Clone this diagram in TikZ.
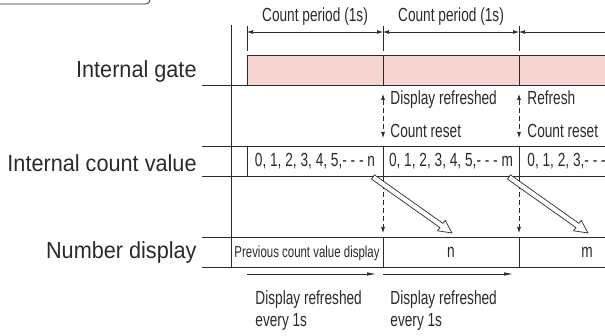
\documentclass[tikz,border=0pt]{standalone}
\usepackage{fontspec}
\setmainfont{Liberation Sans}
\newfontfamily\bigfont[FakeStretch=0.93]{Liberation Sans}
\newfontfamily\smfont[FakeStretch=0.72]{Liberation Sans}
\usetikzlibrary{arrows.meta,calc}
\definecolor{ink}{HTML}{2A2A2A}
\definecolor{gatepink}{HTML}{F6D4D0}
\newcommand\hollowarrow[2]{%
  \coordinate (ha-b) at ($(#2)!13pt!(#1)$);
  \draw[fill=white, line width=0.7pt, line join=miter]
    ($(#1)!2.6pt!90:(#2)$) -- ($(ha-b)!2.6pt!90:(#2)$) -- ($(ha-b)!6.5pt!90:(#2)$) -- (#2)
    -- ($(ha-b)!6.5pt!-90:(#2)$) -- ($(ha-b)!2.6pt!-90:(#2)$) -- ($(#1)!2.6pt!-90:(#2)$) -- cycle;}
\begin{document}
\begin{tikzpicture}[x=1pt,y=-1pt, line width=0.8pt, color=ink,
  lab/.style={font=\bigfont\fontsize{23.3}{26}\selectfont, anchor=base east, inner sep=0pt},
  sm/.style={font=\smfont\fontsize{19}{22}\selectfont, inner sep=0pt},
  tinytext/.style={font=\smfont\fontsize{15.9}{18}\selectfont, inner sep=0pt},
  tick/.style={line width=0.7pt},
  dimarr/.style={line width=0.7pt, {Latex[length=6pt,width=4pt]}-{Latex[length=6pt,width=4pt]}},
  dimarrleft/.style={line width=0.7pt, {Latex[length=6pt,width=4pt]}-},
  dasharr/.style={line width=0.7pt, dash pattern=on 5pt off 3pt},
  refarr/.style={line width=0.7pt, -{Latex[length=9pt,width=3.5pt]}}]
\useasboundingbox (0,0) rectangle (605,336);

% top-left box remnant
\draw[rounded corners=4pt] (-2,4) -- (150,4) -- (150,-6);

% main labels
\node[lab] (lgate) at (197,78) {Internal gate};
\node[lab] (lcount) at (197,171.5) {Internal count value};
\node[lab] (ldisp) at (197,259) {Number display};

% period labels
\node[sm, anchor=base] (p1) at (315,22) {Count period (1s)};
\node[sm, anchor=base] (p2) at (451,22) {Count period (1s)};

% ticks and dimension arrows
\coordinate (t0) at (247,32);
\coordinate (t1) at (383,32);
\coordinate (t2) at (519,32);
\coordinate (t3) at (606,32);
\draw[tick] (247,26) -- (247,51);
\draw[tick] (383,26) -- (383,51);
\draw[tick] (519,26) -- (519,51);
\draw[dimarr] (t0) -- (t1);
\draw[dimarr] (t1) -- (t2);
\draw[dimarrleft] (t2) -- (t3);

% left axis
\draw (231,25) -- (231,267);

% internal gate
\fill[gatepink] (247,55) rectangle (606,85);
\draw (606,55) -- (247,55) -- (247,85);
\draw (202,85) -- (606,85);
\draw (383,55) -- (383,85);
\draw (519,55) -- (519,85);

% internal count row
\draw (202,146) -- (606,146);
\draw (202,176) -- (606,176);
\draw (247,146) -- (247,176);
\draw (383,146) -- (383,176);
\draw (519,146) -- (519,176);
\node[sm, anchor=base] (c1) at (315,166.5) {0, 1, 2, 3, 4, 5,- - - n};
\node[sm, anchor=base] (c2) at (451,166.5) {0, 1, 2, 3, 4, 5,- - - m};
\node[sm, anchor=base west] (c3) at (527,166.5) {0, 1, 2, 3,- - -};

% number display row
\draw (202,237) -- (606,237);
\draw (202,267) -- (606,267);
\draw (383,237) -- (383,267);
\draw (519,237) -- (519,267);
\node[tinytext, anchor=base] (d1) at (307,257.3) {Previous count value display};
\node[sm, anchor=base] (d2) at (451,257.3) {n};
\node[sm, anchor=base] (d3) at (587,257.3) {m};

% refresh / reset dashed arrows
\coordinate (r1a) at (383,94);
\coordinate (r1b) at (383,138);
\coordinate (r1c) at (383,176);
\coordinate (r1d) at (383,233);
\coordinate (r2a) at (519,94);
\coordinate (r2b) at (519,138);
\coordinate (r2c) at (519,176);
\coordinate (r2d) at (519,233);
\draw[dasharr, {Latex[length=6pt,width=4pt]}-{Latex[length=6pt,width=4pt]}] (r1a) -- (r1b);
\draw[dasharr, -{Latex[length=6pt,width=4pt]}] (r1c) -- (r1d);
\draw[dasharr, {Latex[length=6pt,width=4pt]}-{Latex[length=6pt,width=4pt]}] (r2a) -- (r2b);
\draw[dasharr, -{Latex[length=6pt,width=4pt]}] (r2c) -- (r2d);
\node[sm, anchor=base west] (u1) at (390,105) {Display refreshed};
\node[sm, anchor=base west] (u2) at (390,138) {Count reset};
\node[sm, anchor=base west] (u3) at (527,105) {Refresh};
\node[sm, anchor=base west] (u4) at (527,138) {Count reset};

% hollow transfer arrows
\coordinate (h1s) at (373,177);
\coordinate (h1e) at (452,233);
\coordinate (h2s) at (509,177);
\coordinate (h2e) at (588,233);
\hollowarrow{h1s}{h1e}
\hollowarrow{h2s}{h2e}

% bottom refresh arrows
\coordinate (b0) at (247,274);
\coordinate (b1) at (376,274);
\coordinate (b2) at (383,274);
\coordinate (b3) at (513,274);
\draw[refarr] (b0) -- (b1);
\draw[refarr] (b2) -- (b3);
\node[sm, anchor=base west] (e1) at (255,305) {Display refreshed};
\node[sm, anchor=base west] (e2) at (255,326.7) {every 1s};
\node[sm, anchor=base west] (e3) at (390,305) {Display refreshed};
\node[sm, anchor=base west] (e4) at (390,326.7) {every 1s};
\end{tikzpicture}
\end{document}
